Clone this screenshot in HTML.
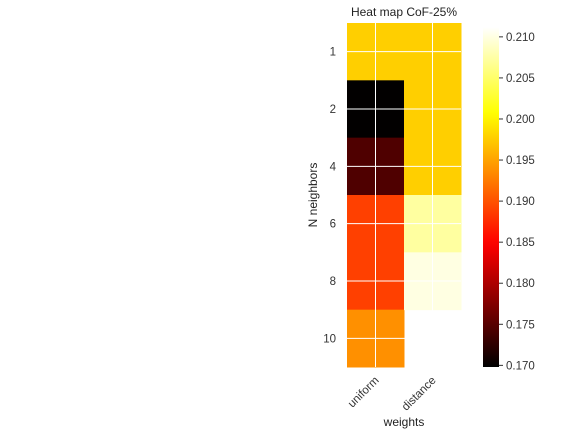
<!DOCTYPE html>
<html><head><meta charset="utf-8"><style>
body{margin:0;background:#fff;}
svg{display:block;font-family:"Liberation Sans","DejaVu Sans",sans-serif;}
</style></head><body>
<svg id="c" width="576" height="432"></svg>
<script>
const rowLabels=["1","2","4","6","8","10"];
const colLabels=["uniform","distance"];
const uniformVals=[0.1977,0.1699,0.1745,0.1889,0.1889,0.1938];
const distanceVals=[0.1977,0.1977,0.1977,0.2073,0.2100,null];
const cbTicks=[0.170,0.175,0.180,0.185,0.190,0.195,0.200,0.205,0.210];
const vmin=0.1698, vmax=0.2112;
const NS="http://www.w3.org/2000/svg";
const svg=document.getElementById('c');
function mk(t,a,txt){const e=document.createElementNS(NS,t);for(const k in a)e.setAttribute(k,a[k]);if(txt!==undefined)e.textContent=txt;svg.appendChild(e);return e;}
const X0=347,X1=461,Y0=23,Y1=367;
const cw=(X1-X0)/colLabels.length, ch=(Y1-Y0)/rowLabels.length;
const xc=i=>X0+cw*(i+0.5), yc=j=>Y0+ch*(j+0.5);
function hot(v){let x=(v-vmin)/(vmax-vmin);x=Math.max(0,Math.min(1,x));
 const r=Math.min(1,x/0.365),g=Math.max(0,Math.min(1,(x-0.365)/0.381)),b=Math.max(0,Math.min(1,(x-0.746)/0.254));
 return `rgb(${Math.round(r*255)},${Math.round(g*255)},${Math.round(b*255)})`;}
const series=[uniformVals,distanceVals];
series.forEach((vals,i)=>vals.forEach((v,j)=>{if(v===null)return;
 const r=mk('rect',{x:X0+cw*i,y:Y0+ch*j,width:cw+0.5,height:ch+0.5,fill:hot(v)});
 
 }));
colLabels.forEach((c,i)=>{const l=mk('line',{x1:xc(i),x2:xc(i),y1:Y0,y2:Y1,stroke:'#fff','stroke-width':1});
 
 const t=mk('text',{x:xc(i)+4,y:Y1+14,'font-size':11.5,fill:'#333','text-anchor':'end',transform:`rotate(-45 ${xc(i)+4} ${Y1+14})`},c);
 });
rowLabels.forEach((r,j)=>{const l=mk('line',{x1:X0,x2:X1,y1:yc(j),y2:yc(j),stroke:'#fff','stroke-width':1});
 
 const t=mk('text',{x:336,y:yc(j)+4,'font-size':11.5,fill:'#333','text-anchor':'end'},r);
 });
let e=mk('text',{x:404,y:16,'font-size':12,fill:'#222','text-anchor':'middle'},'Heat map CoF-25%');

e=mk('text',{x:404,y:426,'font-size':12,fill:'#222','text-anchor':'middle'},'weights');

e=mk('text',{x:317,y:195,'font-size':12,fill:'#222','text-anchor':'middle',transform:'rotate(-90 317 195)'},'N neighbors');

const CX=483,CW=16,CT=27,CB=367;
const defs=mk('defs',{});const lg=document.createElementNS(NS,'linearGradient');
lg.setAttribute('id','g');lg.setAttribute('x1','0');lg.setAttribute('y1','1');lg.setAttribute('x2','0');lg.setAttribute('y2','0');
defs.appendChild(lg);
for(let k=0;k<=40;k++){const s=document.createElementNS(NS,'stop');s.setAttribute('offset',k/40);s.setAttribute('stop-color',hot(vmin+(vmax-vmin)*k/40));lg.appendChild(s);}
e=mk('rect',{x:CX,y:CT,width:CW,height:CB-CT,fill:'url(#g)'});

const cy=v=>CB-(v-vmin)/(vmax-vmin)*(CB-CT);
cbTicks.forEach(v=>{const y=cy(v);
 const l=mk('line',{x1:CX+CW,x2:CX+CW+4,y1:y,y2:y,stroke:'#333','stroke-width':1});
 
 const t=mk('text',{x:CX+CW+7,y:y+4,'font-size':11.5,fill:'#333'},v.toFixed(3));
 });
</script>
</body></html>
